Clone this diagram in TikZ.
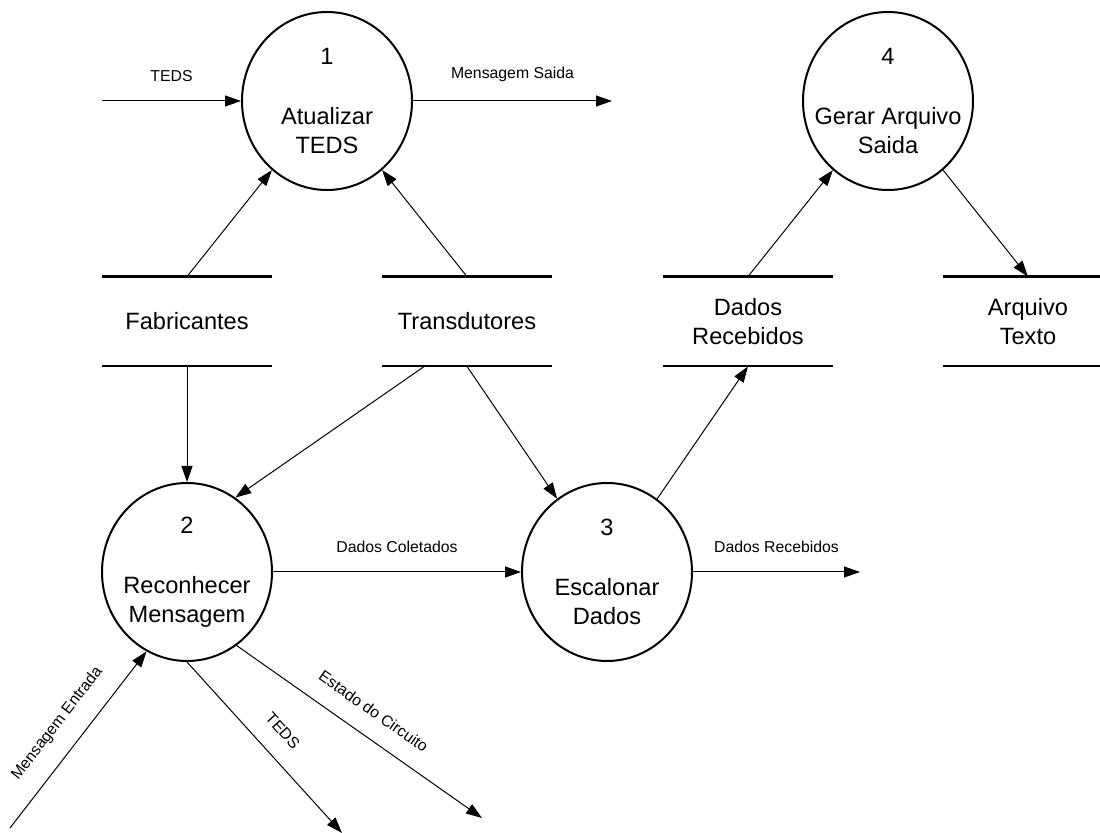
\documentclass[tikz,border=0pt]{standalone}
\usepackage{fontspec}
\setmainfont{Liberation Sans}
\usetikzlibrary{arrows.meta,shapes.geometric,calc}

\begin{document}
\begin{tikzpicture}[x=0.5pt, y=-0.5pt,
    proc/.style={ellipse, draw, line width=1pt, minimum width=85pt, minimum height=89pt, inner sep=0pt},
    proctxt/.style={align=center, font=\fontsize{11.8}{14.5}\selectfont},
    store/.style={minimum width=85pt, minimum height=44.5pt, inner sep=0pt, align=center, font=\fontsize{11.8}{14.5}\selectfont},
    storeline/.style={line width=1.1pt},
    flow/.style={line width=0.5pt, -{Triangle[length=8pt, width=5.5pt]}},
    lbl/.style={font=\fontsize{7.9}{9.5}\selectfont}]
  \useasboundingbox (0,0) rectangle (1100,833);

  % processos
  \node[proc] (c1) at (327,101) {};
  \node[proctxt] (c1txt) at (c1) {1\\[15.5pt]Atualizar\\TEDS};
  \node[proc] (c2) at (187,572) {};
  \node[proctxt] (c2txt) at (c2) {2\\[15.5pt]Reconhecer\\Mensagem};
  \node[proc] (c3) at (607,572) {};
  \node[proctxt] (c3txt) at (c3) {3\\[15.5pt]Escalonar\\Dados};
  \node[proc] (c4) at (888,101) {};
  \node[proctxt] (c4txt) at (c4) {4\\[15.5pt]Gerar Arquivo\\Saida};

  % depositos de dados
  \node[store] (fab) at (187,321.5) {Fabricantes};
  \node[store] (trans) at (467,321.5) {Transdutores};
  \node[store] (drec) at (748,321.5) {Dados\\Recebidos};
  \node[store] (arq) at (1028,321.5) {Arquivo\\Texto};
  \foreach \s in {fab,trans,drec,arq}
    \draw[storeline] (\s.north west) -- (\s.north east) (\s.south west) -- (\s.south east);

  % pontas livres
  \coordinate (tedsin) at (102,101);
  \coordinate (msgout) at (612,101);
  \coordinate (drout) at (860,572);
  \coordinate (msgin) at (10,828);
  \coordinate (tedsout) at (342,833);
  \coordinate (estout) at (482,818);
  \coordinate (transq) at ($(trans.south west)!0.25!(trans.south east)$);

  \draw[flow] (tedsin) -- node[lbl, above=6pt] (lteds1) {TEDS} (c1);
  \draw[flow] (c1) -- node[lbl, above=6pt] (lmsgout) {Mensagem Saida} (msgout);
  \draw[flow] (fab.north) -- (c1);
  \draw[flow] (trans.north) -- (c1);
  \draw[flow] (drec.north) -- (c4);
  \draw[flow] (c4) -- (arq.north);
  \draw[flow] (fab.south) -- (c2);
  \draw[flow] (transq) -- (c2.57);
  \draw[flow] (trans.south) -- (c3);
  \draw[flow] (c3) -- (drec.south);
  \draw[flow] (c2) -- node[lbl, above=6pt] (lcol) {Dados Coletados} (c3);
  \draw[flow] (c3) -- node[lbl, above=6pt] (ldrec) {Dados Recebidos} (drout);
  \draw[flow] (msgin) -- node[lbl, sloped, above=6pt] (lmsgin) {Mensagem Entrada} (c2.243);
  \draw[flow] (c2.south) -- node[lbl, sloped, above=6pt] (lteds2) {TEDS} (tedsout);
  \draw[flow] (c2.-56) -- node[lbl, sloped, above=6pt] (lest) {Estado do Circuito} (estout);
\end{tikzpicture}
\end{document}
